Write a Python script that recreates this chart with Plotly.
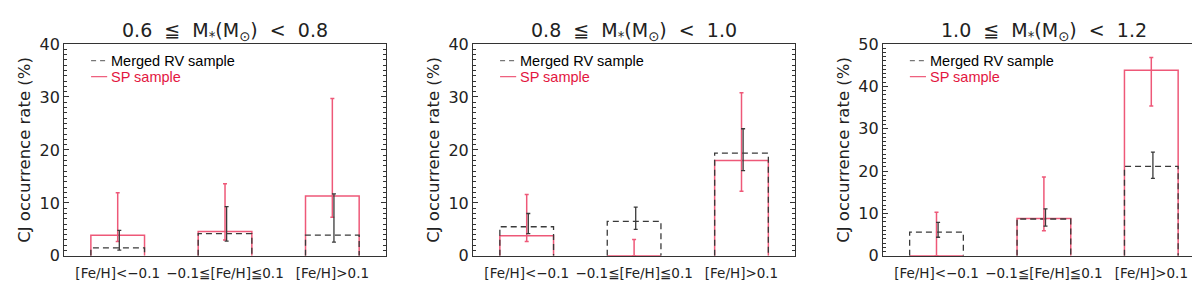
import plotly.graph_objects as go

# ---- data ----
categories = ["[Fe/H]<\u22120.1", "\u22120.1\u2266[Fe/H]\u22660.1", "[Fe/H]>0.1"]
panel_titles = ["0.6  \u2266  M<sub>*</sub>(M<sub>\u2299</sub>)  <  0.8",
                "0.8  \u2266  M<sub>*</sub>(M<sub>\u2299</sub>)  <  1.0",
                "1.0  \u2266  M<sub>*</sub>(M<sub>\u2299</sub>)  <  1.2"]
y_max = [40, 40, 50]

# Merged RV sample (value, upper error bound, lower error bound)
rv_val = [[1.5, 4.2, 3.9], [5.5, 6.5, 19.4], [5.6, 8.7, 21.1]]
rv_hi = [[4.8, 9.3, 11.7], [8.0, 9.2, 24.0], [7.9, 11.1, 24.5]]
rv_lo = [[1.1, 2.8, 2.6], [4.2, 5.0, 16.1], [4.4, 7.0, 18.3]]

# SP sample
sp_val = [[3.9, 4.6, 11.3], [3.8, 0.0, 18.0], [0.0, 8.8, 43.8]]
sp_hi = [[11.9, 13.6, 29.7], [11.6, 3.1, 30.8], [10.3, 18.6, 46.8]]
sp_lo = [[2.7, 3.0, 7.3], [2.7, 0.0, 12.2], [0.0, 5.9, 35.4]]

bar_half = 0.25
x_pos = [0.5, 1.5, 2.5]

RED = "#ee5878"
RED_TXT = "#e3173f"
GRAY = "#3a3a3a"

fig = go.Figure()

x_domains = [[0.0467, 0.315], [0.3875, 0.656], [0.729, 0.9975]]
y_domain = [0.0986, 0.898]

for p in range(3):
    xa = "x" if p == 0 else f"x{p+1}"
    ya = "y" if p == 0 else f"y{p+1}"
    # SP bars (solid red)
    for i, c in enumerate(x_pos):
        v = sp_val[p][i]
        fig.add_trace(go.Scatter(x=[c - bar_half, c - bar_half, c + bar_half, c + bar_half],
                                 y=[0, v, v, 0], mode="lines",
                                 line=dict(color=RED, width=1.5), xaxis=xa, yaxis=ya,
                                 showlegend=False, cliponaxis=False, hoverinfo="skip"))
    # RV bars (dashed)
    for i, c in enumerate(x_pos):
        v = rv_val[p][i]
        fig.add_trace(go.Scatter(x=[c - bar_half, c - bar_half, c + bar_half, c + bar_half],
                                 y=[0, v, v, 0], mode="lines",
                                 line=dict(color=GRAY, width=1.3, dash="6px,4px"), xaxis=xa, yaxis=ya,
                                 showlegend=False, cliponaxis=False, hoverinfo="skip"))
    # SP error bars
    fig.add_trace(go.Scatter(x=x_pos, y=sp_val[p], mode="markers",
                             marker=dict(size=1, color="rgba(0,0,0,0)"),
                             error_y=dict(type="data", symmetric=False,
                                          array=[h - v for h, v in zip(sp_hi[p], sp_val[p])],
                                          arrayminus=[v - l for l, v in zip(sp_lo[p], sp_val[p])],
                                          color=RED, thickness=1.5, width=2),
                             xaxis=xa, yaxis=ya, showlegend=False, cliponaxis=False))
    # RV error bars (slightly offset)
    fig.add_trace(go.Scatter(x=[c + 0.015 for c in x_pos], y=rv_val[p], mode="markers",
                             marker=dict(size=1, color="rgba(0,0,0,0)"),
                             error_y=dict(type="data", symmetric=False,
                                          array=[h - v for h, v in zip(rv_hi[p], rv_val[p])],
                                          arrayminus=[v - l for l, v in zip(rv_lo[p], rv_val[p])],
                                          color=GRAY, thickness=1.3, width=2),
                             xaxis=xa, yaxis=ya, showlegend=False, cliponaxis=False))

    axis_common = dict(showline=True, linecolor="#333333", linewidth=1, mirror="allticks",
                       showgrid=False, zeroline=False)
    fig.layout[("xaxis" if p == 0 else f"xaxis{p+1}")] = dict(
        domain=x_domains[p], range=[0, 3], tickmode="array", tickvals=x_pos, ticktext=categories,
        ticks="", ticklabelstandoff=5, tickfont=dict(family="DejaVu Sans", size=13.5, color="#222"),
        anchor=ya, **axis_common)
    fig.layout[("yaxis" if p == 0 else f"yaxis{p+1}")] = dict(
        domain=y_domain, range=[0, y_max[p]], dtick=10, ticks="inside", ticklen=5,
        tickcolor="#333333",
        minor=dict(dtick=1, ticks="inside", ticklen=3, tickcolor="#333333"),
        tickfont=dict(family="DejaVu Sans", size=16, color="#222"),
        title=dict(text="CJ occurrence rate (%)", font=dict(family="DejaVu Sans", size=16.5, color="#222"),
                   standoff=4),
        anchor=xa, **axis_common)

    xd = "x domain" if p == 0 else f"x{p+1} domain"
    yd = "y domain" if p == 0 else f"y{p+1} domain"
    # title
    fig.add_annotation(text=panel_titles[p], xref=xd, yref="paper", x=0.5, y=1.0,
                       yanchor="top", showarrow=False,
                       font=dict(family="DejaVu Sans", size=19, color="#222"))
    # legend
    fig.add_shape(type="line", xref=xd, yref=yd, x0=0.084, x1=0.134, y0=0.922, y1=0.922,
                  line=dict(color="#777777", width=1.2, dash="5px,4px"))
    fig.add_shape(type="line", xref=xd, yref=yd, x0=0.084, x1=0.134, y0=0.846, y1=0.846,
                  line=dict(color=RED, width=1.2))
    fig.add_annotation(text="Merged RV sample", xref=xd, yref=yd, x=0.14, y=0.922,
                       xanchor="left", yanchor="middle", showarrow=False,
                       font=dict(family="Liberation Sans", size=14.5, color="#000"))
    fig.add_annotation(text="SP sample", xref=xd, yref=yd, x=0.14, y=0.846,
                       xanchor="left", yanchor="middle", showarrow=False,
                       font=dict(family="Liberation Sans", size=14.5, color=RED_TXT))

fig.update_layout(width=1200, height=284, margin=dict(l=0, r=0, t=0, b=0),
                  plot_bgcolor="white", paper_bgcolor="white", showlegend=False)

fig.write_html("out.html")
